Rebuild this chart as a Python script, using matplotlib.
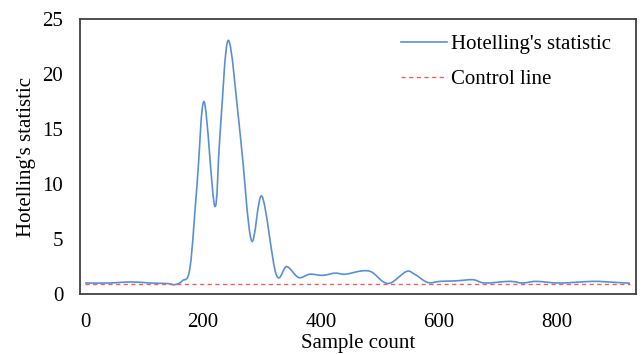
import numpy as np
import matplotlib
matplotlib.use('Agg')
import matplotlib.pyplot as plt
from matplotlib.path import Path
from matplotlib.patches import PathPatch
from matplotlib.lines import Line2D

# Values
sample = [0, 40, 79, 110, 140, 152, 165, 178, 190, 202, 220, 229, 243, 263, 282, 300,
          324, 342, 362, 381, 403, 424, 441, 469, 486, 506, 520, 545, 559, 581, 602,
          630, 658, 678, 720, 742, 765, 805, 861, 895, 924]
t2 = [1.0, 1.0, 1.1, 1.0, 0.95, 0.85, 1.2, 2.4, 10.0, 17.5, 8.0, 14.6, 23.1, 14.6, 4.9, 8.9,
      1.8, 2.5, 1.5, 1.8, 1.7, 1.9, 1.8, 2.1, 2.0, 1.1, 1.05, 2.05, 1.8, 1.05, 1.15,
      1.2, 1.3, 1.0, 1.15, 1.0, 1.15, 1.0, 1.15, 1.07, 0.98]
control = 0.95

blue = '#5B8FD4'
red = '#E06666'

plt.rcParams['font.family'] = ['Liberation Serif']
plt.rcParams['font.size'] = 15

fig = plt.figure(figsize=(6.41, 3.54), dpi=100)
ax = fig.add_axes([0.1248, 0.1695, 0.8672, 0.7755])


# Excel-style smoothed line: cubic Bezier segments through the data points
def smooth_path(x, y):
    p = np.column_stack([x, y]).astype(float)
    verts = [p[0]]
    codes = [Path.MOVETO]
    for i in range(len(p) - 1):
        p0 = p[i - 1] if i > 0 else p[i]
        p3 = p[i + 2] if i + 2 < len(p) else p[i + 1]
        c1 = p[i] + (p[i + 1] - p0) / 6
        c2 = p[i + 1] - (p3 - p[i]) / 6
        verts += [c1, c2, p[i + 1]]
        codes += [Path.CURVE4] * 3
    return Path(verts, codes)


ax.add_patch(PathPatch(smooth_path(sample, t2), facecolor='none', edgecolor=blue, lw=1.2))
ax.plot([sample[0], sample[-1]], [control, control], color=red, lw=1.0, ls=(0, (3, 2.5)))

ax.set_xlim(-8.5, 934)
ax.set_ylim(0, 25)
ax.set_xticks([0, 200, 400, 600, 800])
ax.set_yticks([0, 5, 10, 15, 20, 25])
ax.tick_params(axis='x', length=0, pad=14)
ax.tick_params(axis='y', length=0, pad=12)
for s in ax.spines.values():
    s.set_color('#404040')
    s.set_linewidth(1.3)

ax.set_xlabel('Sample count', labelpad=1)
ax.set_ylabel("Hotelling's statistic", labelpad=5)

handles = [Line2D([], [], color=blue, lw=1.2),
           Line2D([], [], color=red, lw=1.0, ls=(0, (3, 2.5)))]
ax.legend(handles, ["Hotelling's statistic", 'Control line'], loc='upper right',
          frameon=False, handlelength=2.2, handletextpad=0.2, labelspacing=0.75,
          borderpad=0, borderaxespad=0,
          bbox_to_anchor=(0.953, 0.902), bbox_transform=fig.transFigure)

fig.savefig('out.png', dpi=100)
